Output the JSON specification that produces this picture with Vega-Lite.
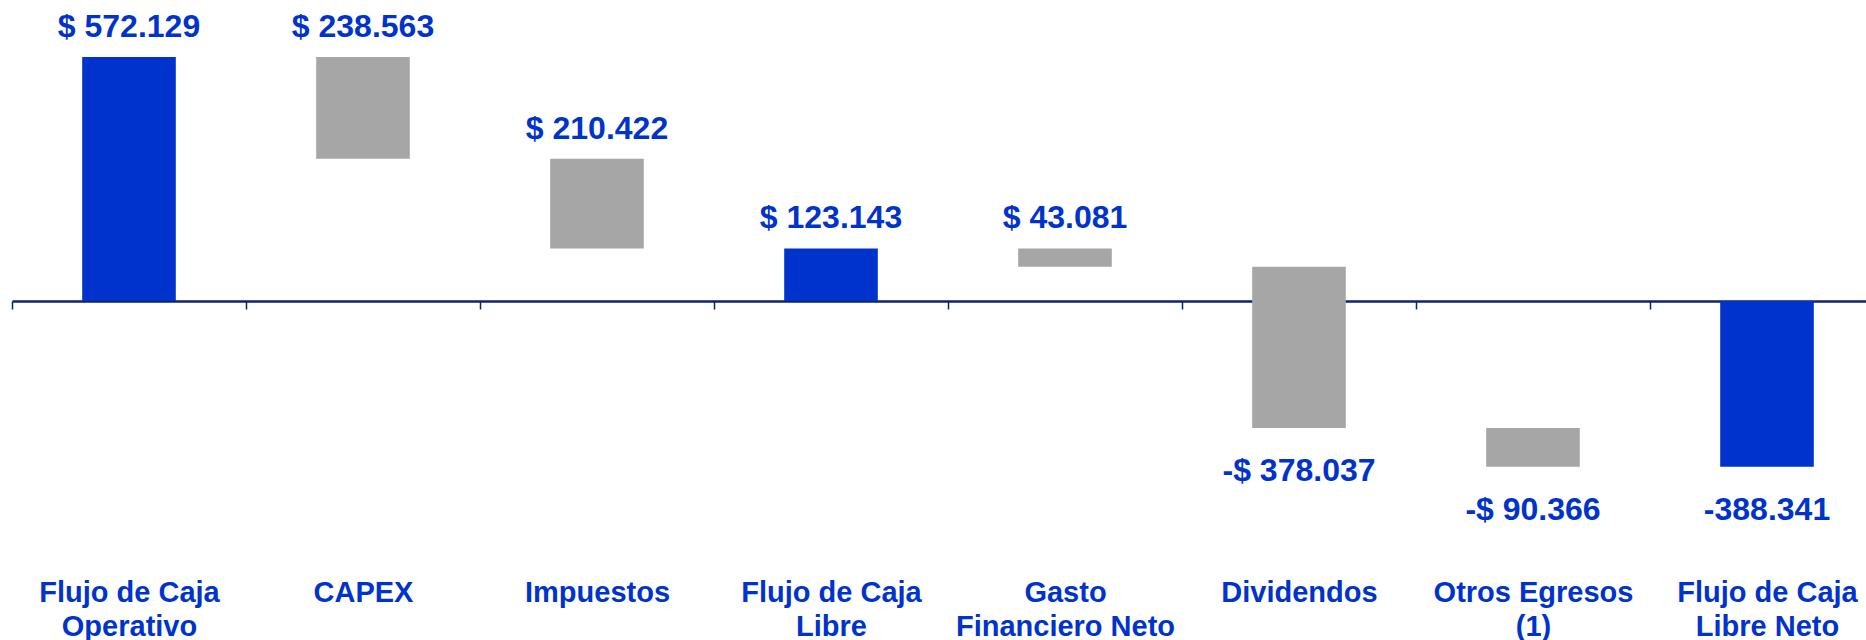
{
  "$schema": "https://vega.github.io/schema/vega-lite/v6.json",
  "autosize": {"type": "none"},
  "padding": {"left": 12, "top": 0, "right": 0, "bottom": 0},
  "width": 1854,
  "height": 640,
  "background": "white",
  "config": {"view": {"stroke": null}},
  "data": {
    "values": [
      {"cat": "Flujo de Caja|Operativo", "low": 0, "high": 572.129, "kind": "total", "label": "$ 572.129"},
      {"cat": "CAPEX", "low": 333.566, "high": 572.129, "kind": "delta", "label": "$ 238.563"},
      {"cat": "Impuestos", "low": 123.144, "high": 333.566, "kind": "delta", "label": "$ 210.422"},
      {"cat": "Flujo de Caja|Libre", "low": 0, "high": 123.143, "kind": "total", "label": "$ 123.143"},
      {"cat": "Gasto|Financiero Neto", "low": 80.062, "high": 123.143, "kind": "delta", "label": "$ 43.081"},
      {"cat": "Dividendos", "low": -297.975, "high": 80.062, "kind": "delta", "label": "-$ 378.037"},
      {"cat": "Otros Egresos|(1)", "low": -388.341, "high": -297.975, "kind": "delta", "label": "-$ 90.366"},
      {"cat": "Flujo de Caja|Libre Neto", "low": -388.341, "high": 0, "kind": "total", "label": "-388.341"}
    ]
  },
  "encoding": {
    "x": {
      "field": "cat",
      "type": "nominal",
      "sort": null,
      "scale": {"range": [0, 1872], "paddingInner": 0, "paddingOuter": 0},
      "axis": {
        "title": null,
        "orient": "bottom",
        "offset": -339,
        "tickBand": "extent",
        "domainColor": "#0B2466",
        "domainWidth": 2.5,
        "tickColor": "#0B2466",
        "tickWidth": 1.5,
        "tickSize": 8,
        "labelAngle": 0,
        "labelExpr": "split(datum.label, '|')",
        "labelFont": "Liberation Sans",
        "labelFontWeight": "bold",
        "labelFontSize": 29,
        "labelLineHeight": 34,
        "labelColor": "#0033CC",
        "labelPadding": 269,
        "labelLimit": 0,
        "labelOverlap": false,
        "labelBound": false,
        "grid": false
      }
    }
  },
  "layer": [
    {
      "mark": {"type": "bar", "width": {"band": 0.4}},
      "encoding": {
        "y": {
          "field": "low",
          "type": "quantitative",
          "scale": {"domain": [-794.7, 705.6], "nice": false, "zero": false},
          "axis": null
        },
        "y2": {"field": "high"},
        "color": {
          "field": "kind",
          "type": "nominal",
          "scale": {"domain": ["total", "delta"], "range": ["#0033CC", "#A6A6A6"]},
          "legend": null
        }
      }
    },
    {
      "transform": [{"filter": "datum.low >= 0"}],
      "mark": {
        "type": "text",
        "font": "Liberation Sans",
        "fontWeight": "bold",
        "fontSize": 32,
        "color": "#0033CC",
        "align": "center",
        "baseline": "alphabetic",
        "dy": -20
      },
      "encoding": {
        "y": {"field": "high", "type": "quantitative"},
        "text": {"field": "label"}
      }
    },
    {
      "transform": [{"filter": "datum.low < 0"}],
      "mark": {
        "type": "text",
        "font": "Liberation Sans",
        "fontWeight": "bold",
        "fontSize": 32,
        "color": "#0033CC",
        "align": "center",
        "baseline": "alphabetic",
        "dy": 53
      },
      "encoding": {
        "y": {"field": "low", "type": "quantitative"},
        "text": {"field": "label"}
      }
    }
  ]
}
